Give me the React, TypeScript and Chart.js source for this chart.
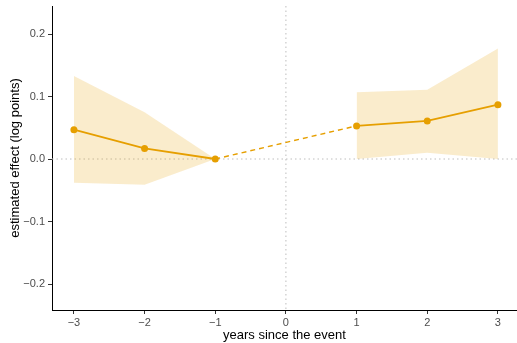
import React, { useEffect, useRef } from "react";
import { Chart, registerables } from "chart.js";

Chart.register(...registerables);

const years = [-3, -2, -1, 1, 2, 3];
const estimates = [0.047, 0.017, 0.0, 0.053, 0.061, 0.087];
const upperCI = [0.133, 0.075, 0.0, 0.107, 0.111, 0.177];
const lowerCI = [-0.038, -0.041, 0.0, 0.0, 0.01, 0.0];
const xTicks = [-3, -2, -1, 0, 1, 2, 3];
const yTicks = [-0.2, -0.1, 0, 0.1, 0.2];

const ORANGE = "#E69F00";
const RIBBON = "rgba(230,159,0,0.2)";

const fmt = (v: number, digits: number) => {
  const s = Math.abs(v).toFixed(digits);
  return v < -1e-9 ? "\u2212" + s : s;
};

const refLines = {
  id: "refLines",
  beforeDatasetsDraw(chart: any) {
    const { ctx, chartArea, scales } = chart;
    const x0 = scales.x.getPixelForValue(0);
    const y0 = scales.y.getPixelForValue(0);
    ctx.save();
    ctx.strokeStyle = "#BEBEBE";
    ctx.lineWidth = 1;
    ctx.setLineDash([1.5, 3]);
    ctx.beginPath();
    ctx.moveTo(chartArea.left, y0);
    ctx.lineTo(chartArea.right, y0);
    ctx.moveTo(x0, chartArea.top);
    ctx.lineTo(x0, chartArea.bottom);
    ctx.stroke();
    ctx.restore();
  },
};

export default function App() {
  const ref = useRef<HTMLCanvasElement>(null);
  useEffect(() => {
    const pre = years.map((x, i) => ({ x, i })).filter((p) => p.x <= -1);
    const post = years.map((x, i) => ({ x, i })).filter((p) => p.x >= 1);
    const pts = (arr: number[], sel: { x: number; i: number }[]) =>
      sel.map((p) => ({ x: p.x, y: arr[p.i] }));
    const ribbon = (data: any[], fill: any) => ({
      data,
      borderWidth: 0,
      pointRadius: 0,
      backgroundColor: RIBBON,
      borderColor: "transparent",
      fill,
      tension: 0,
    });
    const chart = new Chart(ref.current!, {
      type: "line",
      data: {
        datasets: [
          ribbon(pts(upperCI, pre), "+1"),
          ribbon(pts(lowerCI, pre), false),
          ribbon(pts(upperCI, post), "+1"),
          ribbon(pts(lowerCI, post), false),
          {
            data: years.map((x, i) => ({ x, y: estimates[i] })),
            borderColor: ORANGE,
            backgroundColor: ORANGE,
            borderWidth: 2,
            pointRadius: 3.5,
            pointBorderWidth: 0,
            pointBackgroundColor: ORANGE,
            fill: false,
            tension: 0,
            segment: {
              borderDash: (c: any) =>
                c.p0.parsed.x < 0 && c.p1.parsed.x > 0 ? [5, 4] : undefined,
              borderWidth: (c: any) =>
                c.p0.parsed.x < 0 && c.p1.parsed.x > 0 ? 1.4 : 2,
            },
          } as any,
        ],
      },
      options: {
        animation: false,
        responsive: false,
        maintainAspectRatio: false,
        layout: { autoPadding: false, padding: { top: 6, right: 0, left: 0, bottom: 0 } },
        plugins: { legend: { display: false }, tooltip: { enabled: false } },
        scales: {
          x: {
            type: "linear",
            min: -3.31,
            max: 3.27,
            afterBuildTicks: (s: any) => {
              s.ticks = xTicks.map((v) => ({ value: v }));
            },
            afterFit: (s: any) => {
              s.height = 33;
              s.paddingLeft = 0;
              s.paddingRight = 0;
            },
            ticks: {
              callback: (v: any) => fmt(Number(v), 0),
              color: "#4D4D4D",
              font: { family: "Liberation Sans", size: 11 },
              padding: 2,
              maxRotation: 0,
            },
            grid: {
              drawOnChartArea: false,
              drawTicks: true,
              tickLength: 4,
              color: "#333333",
            },
            border: { display: true, color: "#000000", width: 1 },
            title: {
              display: true,
              text: "years since the event",
              color: "#000000",
              font: { family: "Liberation Sans", size: 13 },
              padding: { top: 0, bottom: 0 },
            },
          },
          y: {
            type: "linear",
            min: -0.2416,
            max: 0.2448,
            afterBuildTicks: (s: any) => {
              s.ticks = yTicks.map((v) => ({ value: v }));
            },
            afterFit: (s: any) => {
              s.width = 52;
              s.paddingTop = 0;
              s.paddingBottom = 0;
            },
            ticks: {
              callback: (v: any) => fmt(Number(v), 1),
              color: "#4D4D4D",
              font: { family: "Liberation Sans", size: 11 },
              padding: 3,
            },
            grid: {
              drawOnChartArea: false,
              drawTicks: true,
              tickLength: 4,
              color: "#333333",
            },
            border: { display: true, color: "#000000", width: 1 },
            title: {
              display: true,
              text: "estimated effect (log points)",
              color: "#000000",
              font: { family: "Liberation Sans", size: 13 },
              padding: { top: 8, bottom: 0 },
            },
          },
        },
      },
      plugins: [refLines],
    });
    return () => chart.destroy();
  }, []);
  return (
    <div style={{ position: "fixed", left: 0, top: 0, width: 517, height: 343, background: "#fff" }}>
      <canvas ref={ref} width={517} height={343} style={{ width: 517, height: 343 }} />
    </div>
  );
}
